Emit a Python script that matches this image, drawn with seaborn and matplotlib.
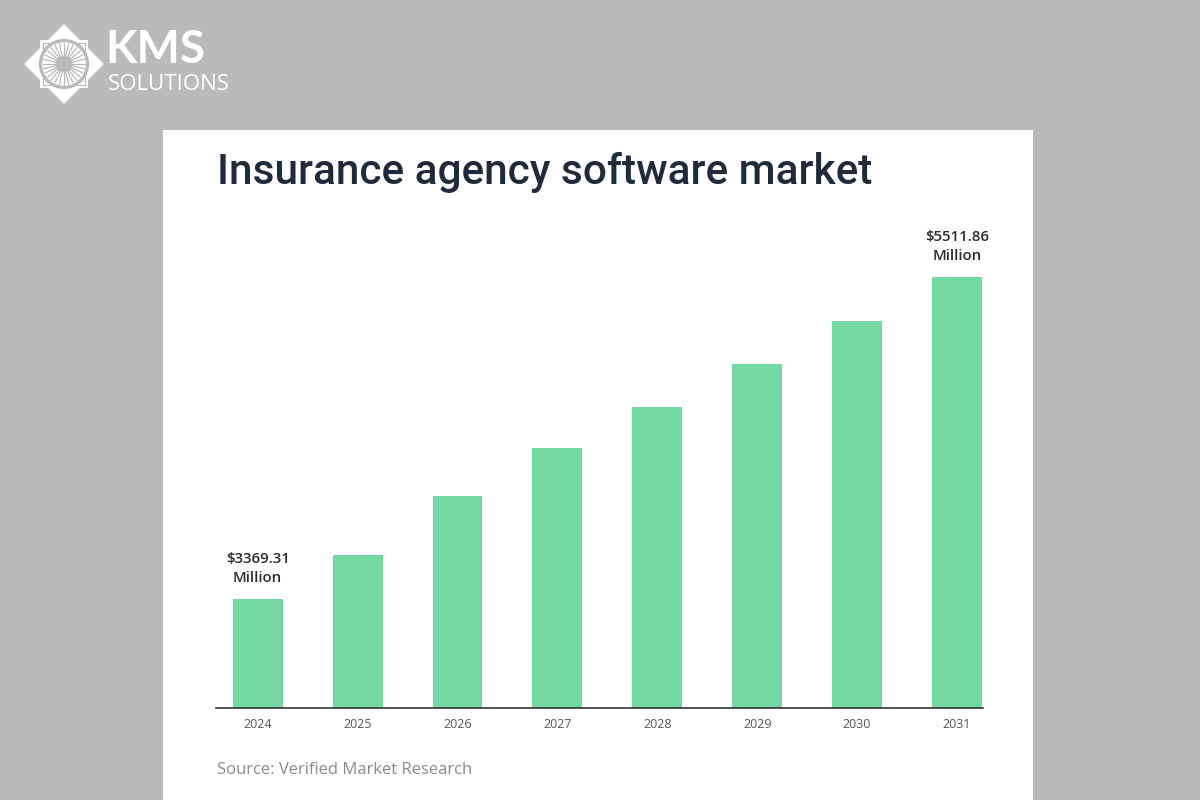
import pandas as pd
import numpy as np
import matplotlib.pyplot as plt
import matplotlib.patches as mpatches
import seaborn as sns

# --- chart data ---
years = ['2024', '2025', '2026', '2027', '2028', '2029', '2030', '2031']
market_size = [3369.31, 3662, 4057, 4373, 4646, 4934, 5223, 5511.86]
labelled = {'2024': '$3369.31\nMillion', '2031': '$5511.86\nMillion'}

TITLE = 'Insurance agency software market'
SOURCE = 'Source: Verified Market Research'

BG_GRAY = '#bababa'
BAR_GREEN = '#72d7a1'
TITLE_NAVY = '#1f2a3b'

W, H = 1200, 800


def px_box(x0, y0, x1, y1):
    """pixel box (top-left origin) -> figure fraction [l, b, w, h]"""
    return [x0 / W, 1 - y1 / H, (x1 - x0) / W, (y1 - y0) / H]


sns.set_style('white')
plt.rcParams['font.family'] = ['Open Sans', 'DejaVu Sans']

fig = plt.figure(figsize=(12, 8), dpi=100, facecolor=BG_GRAY)

# white card behind the chart
l, b, w, h = px_box(163, 130, 1033, 800)
fig.patches.append(mpatches.Rectangle((l, b), w, h, transform=fig.transFigure,
                                      facecolor='white', edgecolor='none', zorder=-5))

# --- the bars ---
df = pd.DataFrame({'Year': years, 'Value': market_size})
ax = fig.add_axes(px_box(216, 230, 983, 708.3))
sns.barplot(data=df, x='Year', y='Value', color=BAR_GREEN, saturation=1,
            width=0.5, ax=ax)
for bar in ax.patches:
    bar.set_edgecolor('none')

ax.set_xlim(-0.417, 7.26)
ax.set_ylim(2641.4, 5827)
ax.set_facecolor('none')
ax.set_xlabel('')
ax.set_ylabel('')
ax.set_yticks([])
for side in ['left', 'right', 'top']:
    ax.spines[side].set_visible(False)
ax.spines['bottom'].set_color('#333333')
ax.spines['bottom'].set_linewidth(1.2)
ax.tick_params(axis='x', length=0, pad=7, labelsize=9, labelcolor='#555555')

# value callouts over first and last bar
for i, yr in enumerate(years):
    if yr in labelled:
        ax.annotate(labelled[yr], xy=(i, market_size[i]), xytext=(0, 10),
                    textcoords='offset points', ha='center', va='bottom',
                    fontsize=10.8, fontweight='semibold', color='#2b2b2b',
                    linespacing=1.5)

# --- title and source ---
fig.text(217 / W, 1 - 172 / H, TITLE, fontsize=30.5, fontweight='medium',
         color=TITLE_NAVY, va='center', ha='left', family=['Roboto', 'DejaVu Sans'])
fig.text(217 / W, 1 - 770 / H, SOURCE, fontsize=12, color='#8a8a8a',
         va='center', ha='left')

# --- KMS logo (rough sketch) ---
lax = fig.add_axes(px_box(22, 22, 106, 106))
lax.set_xlim(-1, 1)
lax.set_ylim(-1, 1)
lax.set_aspect('equal')
lax.axis('off')
lax.add_patch(mpatches.RegularPolygon((0, 0), 4, radius=0.95, orientation=0,
                                      facecolor='white', edgecolor='none'))
lax.add_patch(mpatches.RegularPolygon((0, 0), 4, radius=0.8, orientation=np.pi / 4,
                                      facecolor='white', edgecolor='none'))
lax.add_patch(mpatches.RegularPolygon((0, 0), 4, radius=0.72, orientation=np.pi / 4,
                                      facecolor='none', edgecolor=BG_GRAY, lw=0.8))
lax.add_patch(mpatches.Circle((0, 0), 0.6, facecolor=BG_GRAY, edgecolor='none'))
lax.add_patch(mpatches.Circle((0, 0), 0.52, facecolor='white', edgecolor='none'))
for ang in np.linspace(0, 2 * np.pi, 28, endpoint=False):
    lax.plot([0.2 * np.cos(ang), 0.5 * np.cos(ang)],
             [0.2 * np.sin(ang), 0.5 * np.sin(ang)], color=BG_GRAY, lw=0.9)
lax.add_patch(mpatches.Circle((0, 0), 0.2, facecolor=BG_GRAY, edgecolor='none'))

fig.text(105 / W, 1 - 50 / H, 'KMS', fontsize=33, fontweight='bold', color='white',
         va='center', ha='left', family=['Lato', 'DejaVu Sans'])
fig.text(108 / W, 1 - 84 / H, 'SOLUTIONS', fontsize=16, color='white',
         va='center', ha='left', family=['Open Sans', 'DejaVu Sans'])

fig.savefig('out.png', dpi=100, facecolor=BG_GRAY)
